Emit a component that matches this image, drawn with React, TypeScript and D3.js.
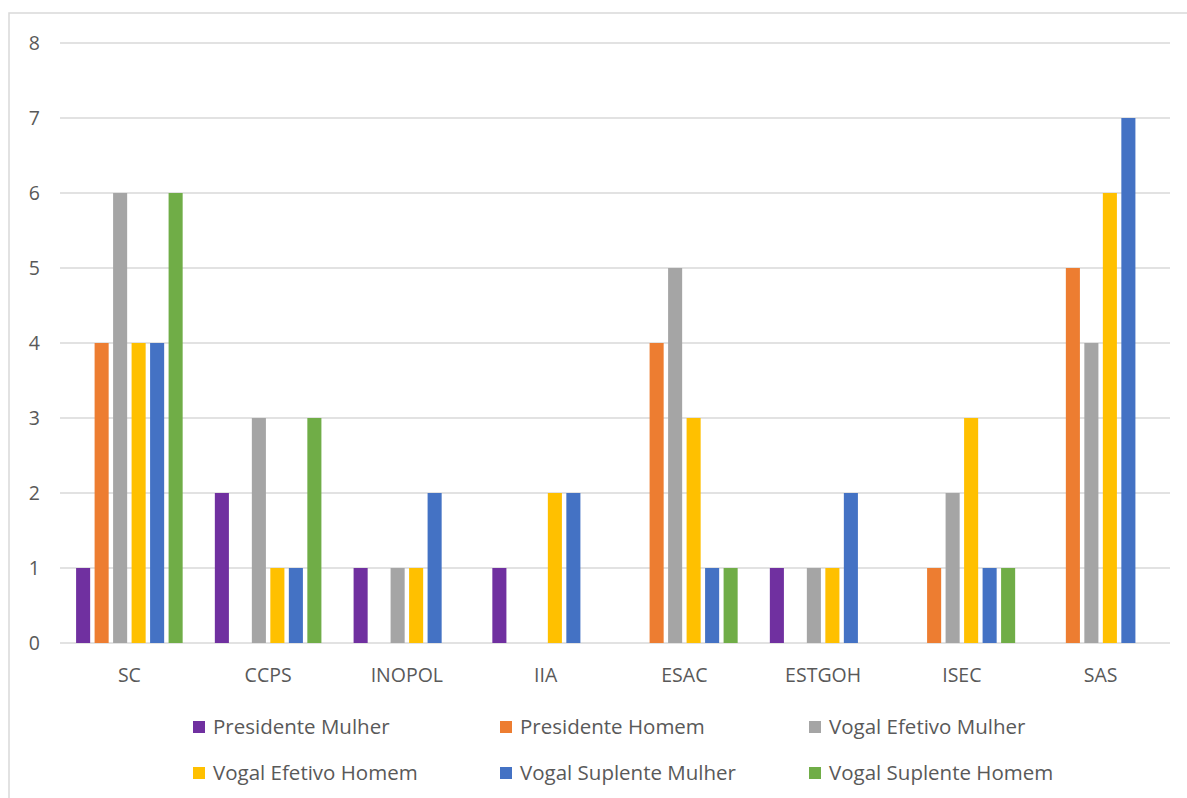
import React from 'react'
import * as d3 from 'd3'

const categories = ['SC', 'CCPS', 'INOPOL', 'IIA', 'ESAC', 'ESTGOH', 'ISEC', 'SAS']

const seriesNames = [
  'Presidente Mulher',
  'Presidente Homem',
  'Vogal Efetivo Mulher',
  'Vogal Efetivo Homem',
  'Vogal Suplente Mulher',
  'Vogal Suplente Homem',
]

const seriesColors = ['#7030A0', '#ED7D31', '#A5A5A5', '#FFC000', '#4472C4', '#70AD47']

// one array per series, same order as categories
const presidenteMulher = [1, 2, 1, 1, 0, 1, 0, 0]
const presidenteHomem = [4, 0, 0, 0, 4, 0, 1, 5]
const vogalEfetivoMulher = [6, 3, 1, 0, 5, 1, 2, 4]
const vogalEfetivoHomem = [4, 1, 1, 2, 3, 1, 3, 6]
const vogalSuplenteMulher = [4, 1, 2, 2, 1, 2, 1, 7]
const vogalSuplenteHomem = [6, 3, 0, 0, 1, 0, 1, 0]

const yTicks = [0, 1, 2, 3, 4, 5, 6, 7, 8]

const seriesValues = [
  presidenteMulher,
  presidenteHomem,
  vogalEfetivoMulher,
  vogalEfetivoHomem,
  vogalSuplenteMulher,
  vogalSuplenteHomem,
]

const width = 1187
const height = 798
const plot = { left: 60, right: 1170, top: 43, bottom: 643 }
const fontFamily = "'Open Sans', 'Noto Sans', sans-serif"
const textColor = '#595959'
const gridColor = '#D9D9D9'

export default function App() {
  const x0 = d3
    .scaleBand()
    .domain(categories)
    .range([plot.left, plot.right])
    .paddingInner(0.232)
    .paddingOuter(0.116)

  const x1 = d3
    .scaleBand()
    .domain(seriesNames)
    .range([0, x0.bandwidth()])
    .paddingInner(0.24)
    .paddingOuter(0)

  const y = d3.scaleLinear().domain([0, 8]).range([plot.bottom, plot.top])

  const legendCols = [193, 500, 809]
  const legendRows = [727, 773]

  return (
    <svg
      width={width}
      height={height}
      style={{ position: 'absolute', left: 0, top: 0, background: '#fff' }}
    >
      <rect x={0} y={0} width={width} height={height} fill="#fff" />
      <rect
        x={9}
        y={13}
        width={width + 20}
        height={height + 20}
        fill="none"
        stroke={gridColor}
        strokeWidth={1.5}
      />
      {yTicks.map((t) => (
        <g key={'tick-' + t}>
          <line
            x1={plot.left}
            x2={plot.right}
            y1={y(t)}
            y2={y(t)}
            stroke={gridColor}
            strokeWidth={1.5}
          />
          <text
            x={40}
            y={y(t)}
            dy="0.35em"
            textAnchor="end"
            fill={textColor}
            style={{ fontFamily, fontSize: '19.5px' }}
          >
            {t}
          </text>
        </g>
      ))}
      {categories.map((c, ci) => (
        <g key={'cat-' + c} transform={`translate(${x0(c)},0)`}>
          {seriesNames.map((s, si) => {
            const v = seriesValues[si][ci]
            if (!v) return null
            return (
              <rect
                key={'bar-' + s}
                x={x1(s)}
                y={y(v)}
                width={x1.bandwidth()}
                height={y(0) - y(v)}
                fill={seriesColors[si]}
              >
                <title>
                  {c} – {s}: {v}
                </title>
              </rect>
            )
          })}
          <text
            x={x0.bandwidth() / 2}
            y={675}
            dy="0.35em"
            textAnchor="middle"
            fill={textColor}
            style={{ fontFamily, fontSize: '19.5px' }}
          >
            {c}
          </text>
        </g>
      ))}
      {seriesNames.map((s, i) => {
        const lx = legendCols[i % 3]
        const ly = legendRows[Math.floor(i / 3)]
        return (
          <g key={'legend-' + s}>
            <rect x={lx} y={ly - 6} width={12} height={12} fill={seriesColors[i]} />
            <text
              x={lx + 20}
              y={ly}
              dy="0.35em"
              fill={textColor}
              style={{ fontFamily, fontSize: '20.5px' }}
            >
              {s}
            </text>
          </g>
        )
      })}
    </svg>
  )
}
